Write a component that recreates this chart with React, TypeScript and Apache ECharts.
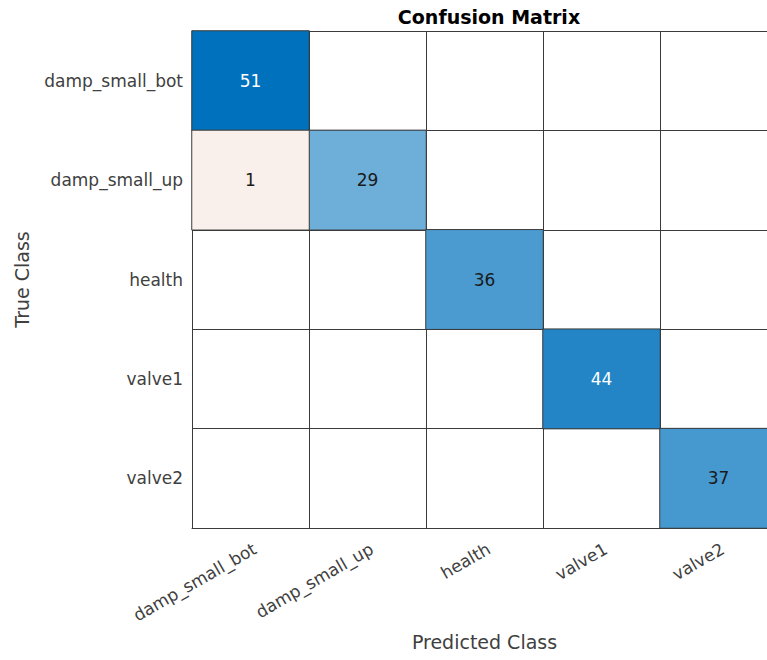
import React, { useEffect, useRef } from "react";
import * as echarts from "echarts";

const classes = ["damp_small_bot", "damp_small_up", "health", "valve1", "valve2"];
// counts[trueRow][predCol]
const counts = [
  [51, 0, 0, 0, 0],
  [1, 29, 0, 0, 0],
  [0, 0, 36, 0, 0],
  [0, 0, 0, 44, 0],
  [0, 0, 0, 0, 37],
];
const titleText = "Confusion Matrix";
const xName = "Predicted Class";
const yName = "True Class";

export default function App() {
  const ref = useRef<HTMLDivElement>(null);
  useEffect(() => {
    if (!ref.current) return;
    const chart = echarts.init(ref.current, undefined, { renderer: "svg" });
    const maxDiag = Math.max(...counts.map((r, i) => r[i]));
    const diag: any[] = [];
    const off: any[] = [];
    counts.forEach((row, r) =>
      row.forEach((v, c) => {
        if (v === 0) return;
        const item = {
          value: [c, r, v],
          label: { color: r === c && v / maxDiag > 0.8 ? "#ffffff" : "#1a1a1a" },
        };
        (r === c ? diag : off).push(item);
      })
    );
    const font = "DejaVu Sans";
    const axisCommon = {
      type: "category" as const,
      data: classes,
      axisTick: { show: false },
      axisLine: { show: true, lineStyle: { color: "#3a3a3a", width: 1 } },
      splitLine: { show: true, interval: 0, lineStyle: { color: "#3a3a3a", width: 1 } },
      nameTextStyle: { fontFamily: font, fontSize: 19, color: "#404040" },
    };
    chart.setOption({
      animation: false,
      backgroundColor: "#ffffff",
      title: {
        text: titleText,
        left: 484,
        textAlign: "center",
        top: 2,
        textStyle: { fontFamily: font, fontSize: 19, fontWeight: "bold", color: "#000" },
      },
      grid: { left: 192, top: 31, right: 23, bottom: 132, containLabel: false },
      xAxis: {
        ...axisCommon,
        position: "bottom",
        name: xName,
        nameLocation: "middle",
        nameGap: 104,
        axisLabel: {
          interval: 0,
          rotate: 30,
          margin: 12,
          align: "right",
          verticalAlign: "top",
          fontFamily: font,
          fontSize: 17,
          color: "#404040",
        },
      },
      yAxis: {
        ...axisCommon,
        inverse: true,
        name: yName,
        nameLocation: "middle",
        nameGap: 161,
        axisLabel: { interval: 0, margin: 9, fontFamily: font, fontSize: 17, color: "#404040" },
      },
      visualMap: [
        {
          show: false,
          type: "continuous",
          seriesIndex: 0,
          dimension: 2,
          min: 0,
          max: maxDiag,
          inRange: { color: ["#ffffff", "#0072bd"] },
        },
        {
          show: false,
          type: "continuous",
          seriesIndex: 1,
          dimension: 2,
          min: 0,
          max: 1,
          inRange: { color: ["#ffffff", "#faf0eb"] },
        },
      ],
      series: [
        {
          type: "heatmap",
          data: diag,
          itemStyle: { borderColor: "#3a3a3a", borderWidth: 1 },
          label: { show: true, fontFamily: font, fontSize: 17 },
          emphasis: { disabled: true },
        },
        {
          type: "heatmap",
          data: off,
          itemStyle: { borderColor: "#3a3a3a", borderWidth: 1 },
          label: { show: true, fontFamily: font, fontSize: 17 },
          emphasis: { disabled: true },
        },
      ],
    });
    return () => chart.dispose();
  }, []);
  return (
    <div
      style={{
        position: "fixed",
        left: 0,
        top: 0,
        width: 767,
        height: 660,
        overflow: "hidden",
        background: "#fff",
      }}
    >
      <div ref={ref} style={{ width: 800, height: 660 }} />
    </div>
  );
}
